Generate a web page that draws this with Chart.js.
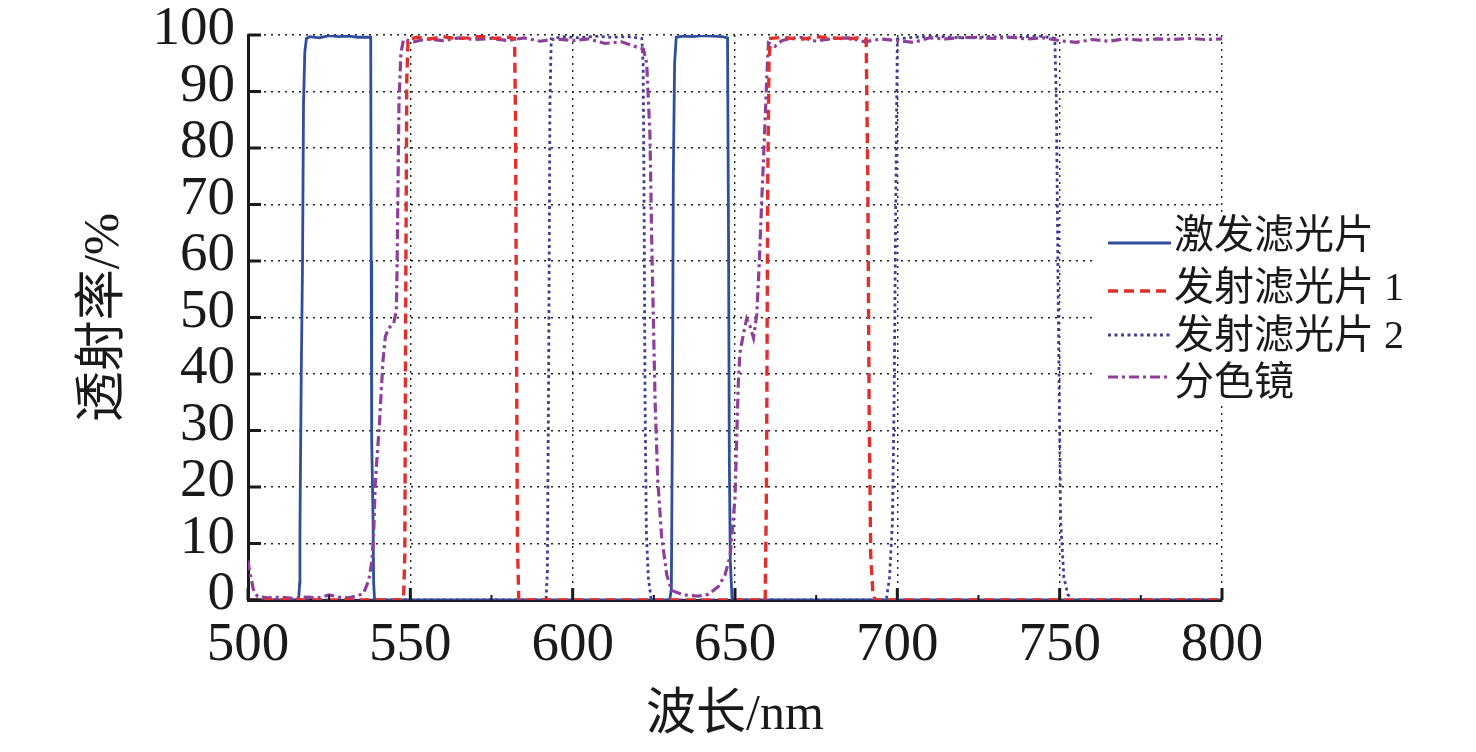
<!DOCTYPE html>
<html>
<head>
<meta charset="utf-8">
<script src="https://cdn.jsdelivr.net/npm/chart.js@4.4.0/dist/chart.umd.min.js"></script>
<style>
    html, body { margin: 0; padding: 0; background: #fff; }
    #wrap { width: 1476px; height: 752px; }
</style>
</head>
<body>
<div id="wrap"><canvas id="specChart" width="1476" height="752"></canvas></div>
<script>
// tick values
const xTicks = [500, 550, 600, 650, 700, 750, 800];
const xMinor = [525, 575, 625, 675, 725, 775];
const yTicks = [0, 10, 20, 30, 40, 50, 60, 70, 80, 90, 100];

// 激发滤光片 (excitation filter)
const exWl = [500, 515.6, 515.9, 516.0, 516.4, 516.8, 517.1, 517.5, 518.0, 519,
              522, 525, 528, 531, 534, 537.8, 537.95, 538.1, 538.5, 538.7,
              539.0, 629.9, 630.4, 630.7, 631.0, 631.4, 631.9, 634, 637, 640,
              643, 646, 647.7, 648.0, 648.25, 648.55, 649.1, 800];
const exT  = [0, 0, 3, 12, 40, 60, 88, 97, 99.4, 99.7,
              99.5, 99.9, 99.7, 99.8, 99.6, 99.6, 60, 28, 15, 3,
              0, 0, 2, 30, 75, 95, 99.6, 99.8, 99.7, 99.9,
              99.8, 99.7, 99.5, 65, 25, 7, 0, 0];

// 发射滤光片 1 (emission filter 1)
const em1Wl = [500, 547.9, 548.3, 548.6, 548.9, 549.3, 552, 556, 560, 564,
               568, 572, 576, 580, 582.1, 582.4, 582.7, 583.0, 583.4, 659.3,
               659.7, 660.1, 660.5, 661, 665, 670, 675, 680, 685, 689,
               690.4, 690.9, 691.3, 691.8, 692.5, 693.2, 800];
const em1T  = [0, 0, 8, 55, 92, 99.2, 99.6, 99.3, 99.7, 99.4,
               99.5, 99.8, 99.4, 99.6, 99.4, 85, 45, 10, 0, 0,
               20, 75, 96, 99.4, 99.6, 99.2, 99.7, 99.5, 99.3, 99.6,
               99.3, 75, 35, 8, 1, 0, 0];

// 发射滤光片 2 (emission filter 2)
const em2Wl = [500, 591.8, 592.2, 592.6, 593.0, 593.4, 597, 602, 607, 612,
               617, 621.3, 621.7, 622.0, 622.3, 622.7, 623.3, 624.2, 696.6, 697.6,
               698.5, 699.0, 699.5, 700.0, 705, 712, 720, 728, 736, 744,
               748.5, 749.0, 749.6, 750.3, 751.3, 752.5, 753.8, 800];
const em2T  = [0, 0, 5, 40, 88, 99.3, 99.7, 99.5, 99.8, 99.6,
               99.7, 99.4, 95, 70, 35, 12, 4, 0, 0, 4,
               14, 35, 69, 99.3, 99.6, 99.8, 99.5, 99.7, 99.6, 99.8,
               99.4, 88, 50, 14, 4, 1, 0, 0];

// 分色镜 (dichroic mirror)
const dcWl = [500, 500.5, 501.1, 501.6, 502.2, 503, 506, 510, 514, 518,
              522, 525, 528, 531, 534, 535.6, 537.2, 538.2, 538.7, 539.2,
              539.9, 540.5, 541.0, 541.6, 542.3, 543.3, 544.9, 545.7, 545.9, 546.2,
              546.5, 547.1, 547.9, 551, 555, 560, 565, 570, 575, 580,
              585, 590, 595, 600, 605, 610, 615, 620, 621.8, 622.8,
              623.8, 624.4, 624.9, 625.4, 626.2, 627.4, 629.0, 630.5, 633.6, 636,
              638.7, 641.8, 644.9, 646.9, 648.5, 650.0, 650.5, 651.0, 651.5, 652.6,
              653.6, 654.6, 655.7, 656.7, 657.4, 658.2, 659.1, 659.8, 660.3, 662.3,
              664.4, 667, 670, 675, 680, 685, 690, 695, 700, 705,
              710, 715, 720, 725, 730, 735, 740, 745, 750, 755,
              760, 765, 770, 775, 780, 785, 790, 795, 800];
const dcT  = [7, 5, 3.5, 2, 1.2, 0.6, 0.4, 0.5, 0.3, 0.5,
              0.4, 0.9, 0.5, 0.4, 0.8, 1.2, 3.5, 7, 11.8, 20.6,
              26.5, 31.3, 36.6, 42.5, 46.6, 48.1, 49, 51.3, 58.4, 73.2,
              88, 96.8, 99.2, 98.8, 99.3, 99.0, 99.5, 99.2, 99.4, 99.0,
              99.5, 98.9, 99.3, 99.0, 99.3, 98.5, 98.8, 97.8, 97.5, 95,
              82.4, 62, 48.5, 35, 21.4, 11.2, 4.4, 1.7, 1.0, 0.8,
              0.7, 1.0, 2.4, 4.4, 7.8, 18, 28, 38, 43.7, 47.1,
              49.8, 48.5, 46.4, 50.5, 58.6, 70.2, 82.4, 92.5, 98.6, 98,
              99, 99.4, 99.6, 98.9, 99.4, 99.5, 98.8, 99.3, 99.0, 98.7,
              99.5, 99.3, 99.6, 99.5, 99.4, 99.6, 99.3, 99.5, 99.0, 98.7,
              99.2, 98.9, 99.3, 99.1, 99.3, 99.2, 99.4, 99.2, 99.3];

const serif = "'Liberation Serif', 'Times New Roman', 'Noto Sans CJK SC', serif";

function pts(wl, t) {
    return wl.map((w, i) => ({x: w, y: t[i]}));
}

const innerTicks = {              // ticks point into the plot like the original
    id: 'innerTicks',
    afterDatasetsDraw(chart) {
        const {ctx, chartArea: a, scales: {x, y}} = chart;
        ctx.save();
        ctx.strokeStyle = '#1a1a1a';
        ctx.lineWidth = 3;
        ctx.beginPath();
        yTicks.forEach(v => {
            const py = y.getPixelForValue(v);
            ctx.moveTo(a.left, py);
            ctx.lineTo(a.left + 13, py);
        });
        xTicks.forEach(v => {
            const px = x.getPixelForValue(v);
            ctx.moveTo(px, a.bottom);
            ctx.lineTo(px, a.bottom - 12);
        });
        ctx.stroke();
        ctx.lineWidth = 2;
        ctx.beginPath();
        xMinor.forEach(v => {
            const px = x.getPixelForValue(v);
            ctx.moveTo(px, a.bottom);
            ctx.lineTo(px, a.bottom - 5);
        });
        ctx.stroke();
        ctx.restore();
    }
};

const sideLegend = {              // legend sitting over the right edge of the plot
    id: 'sideLegend',
    afterDraw(chart) {
        const ctx = chart.ctx;
        const lineY = [243, 291, 335, 377];
        const textY = [237, 289, 337, 384];
        ctx.save();
        ctx.fillStyle = '#fff';
        ctx.fillRect(1097, 212, 330, 193);
        ctx.font = '40px ' + serif;
        ctx.textBaseline = 'middle';
        ctx.textAlign = 'left';
        chart.data.datasets.forEach((ds, i) => {
            ctx.strokeStyle = ds.borderColor;
            ctx.lineWidth = ds.borderWidth;
            ctx.setLineDash(ds.borderDash || []);
            ctx.beginPath();
            ctx.moveTo(1108, lineY[i]);
            ctx.lineTo(1171, lineY[i]);
            ctx.stroke();
            ctx.setLineDash([]);
            ctx.fillStyle = '#1a1a1a';
            ctx.fillText(ds.label, 1174, textY[i]);
        });
        ctx.restore();
    }
};

const gridStyle = {color: '#222', lineWidth: 1.4, drawTicks: false};

new Chart(document.getElementById('specChart'), {
    type: 'line',
    data: {
        datasets: [{
            label: '激发滤光片',
            data: pts(exWl, exT),
            borderColor: '#2f4e9c',
            borderWidth: 2.8,
            borderDash: [],
            order: 4
        }, {
            label: '发射滤光片 1',
            data: pts(em1Wl, em1T),
            borderColor: '#e0302e',
            borderWidth: 3.4,
            borderDash: [10, 6],
            order: 1
        }, {
            label: '发射滤光片 2',
            data: pts(em2Wl, em2T),
            borderColor: '#403f8f',
            borderWidth: 2.8,
            borderDash: [3, 3.5],
            order: 3
        }, {
            label: '分色镜',
            data: pts(dcWl, dcT),
            borderColor: '#8e3f98',
            borderWidth: 3.2,
            borderDash: [10, 4, 3, 4],
            order: 2
        }]
    },
    options: {
        responsive: false,
        animation: false,
        elements: {
            point: {radius: 0},
            line: {tension: 0, fill: false}
        },
        layout: {padding: {left: 70, right: 254, top: 35, bottom: 0}},
        plugins: {
            legend: {display: false},
            tooltip: {enabled: false}
        },
        scales: {
            x: {
                type: 'linear',
                min: 500,
                max: 800,
                afterFit: s => {
                    s.height = 152;
                    s.paddingLeft = 0;
                    s.paddingRight = 0;
                },
                afterBuildTicks: s => { s.ticks = xTicks.map(v => ({value: v})); },
                ticks: {
                    font: {family: serif, size: 55},
                    color: '#1a1a1a',
                    padding: 13,
                    maxRotation: 0,
                    autoSkip: false
                },
                grid: gridStyle,
                border: {display: true, color: '#1c1c2a', width: 3, dash: [2, 5]},
                title: {
                    display: true,
                    text: '波长/nm',
                    font: {family: serif, size: 50},
                    color: '#1a1a1a',
                    padding: {top: 0, bottom: 6}
                }
            },
            y: {
                min: 0,
                max: 100,
                afterFit: s => {
                    s.width = 178;
                    s.paddingTop = 0;
                    s.paddingBottom = 0;
                },
                afterBuildTicks: s => { s.ticks = yTicks.map(v => ({value: v})); },
                ticks: {
                    font: {family: serif, size: 55},
                    color: '#1a1a1a',
                    padding: 13,
                    labelOffset: -5,
                    autoSkip: false
                },
                grid: gridStyle,
                border: {display: true, color: '#1a1a1a', width: 3, dash: [2, 5]},
                title: {
                    display: true,
                    text: '透射率/%',
                    font: {family: serif, size: 51},
                    color: '#1a1a1a',
                    padding: {top: 4, bottom: 0}
                }
            }
        }
    },
    plugins: [innerTicks, sideLegend]
});
</script>
</body>
</html>
